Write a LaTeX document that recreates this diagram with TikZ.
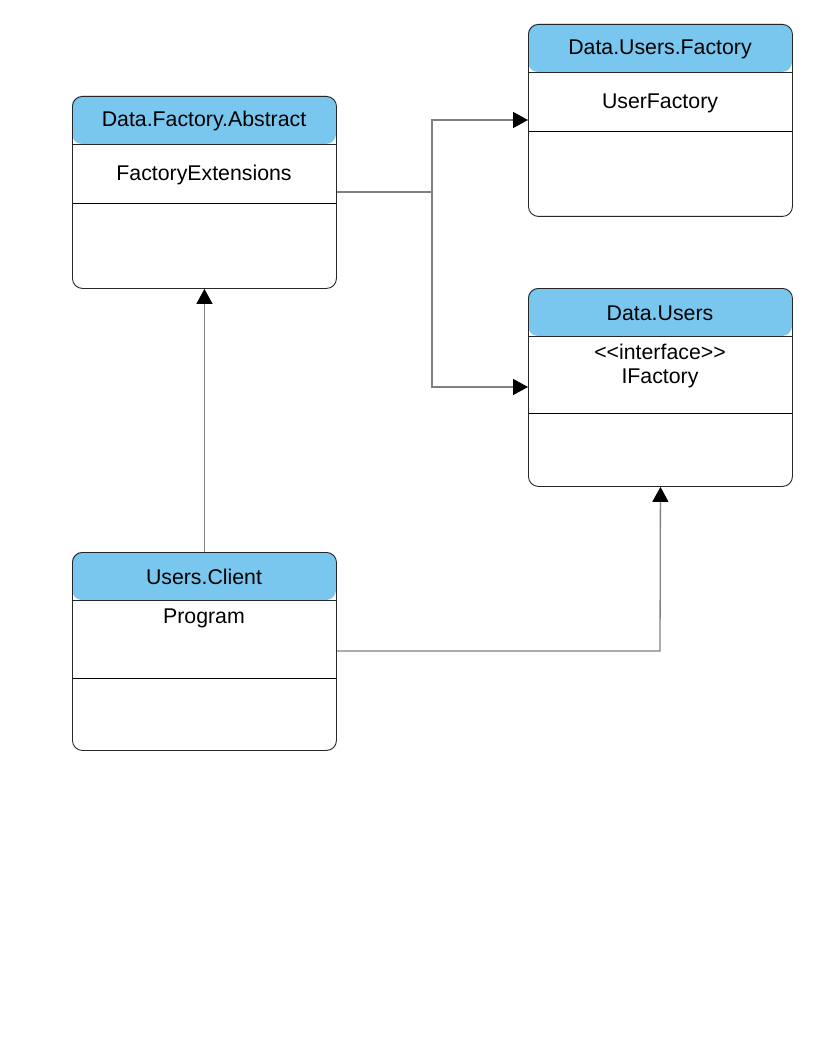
\documentclass[tikz,border=0pt]{standalone}
\usepackage{fontspec}
\setmainfont{Liberation Sans}
\usetikzlibrary{arrows.meta}
\definecolor{hdr}{HTML}{79C7EE}
\definecolor{edge}{HTML}{808080}
\tikzset{
  boxframe/.style={draw=black!85, line width=0.9pt, rounded corners=10pt},
  txt/.style={font=\fontsize{21.3}{24}\selectfont, inner sep=0pt, align=center},
  conn/.style={draw=edge, line width=1.3pt, -{Triangle[length=15pt,width=16pt,fill=black,color=black]}},
  plain/.style={draw=edge, line width=1.3pt}
}
\newcommand{\umlbox}[7]{% name, x0, y0, x1, y1, header bottom, divider
  \fill[hdr, rounded corners=10pt] (#2,#3) -- (#4,#3) -- (#4,#6) -- (#2,#6) -- cycle;
  \fill[white] (#2,#6) rectangle (#4,#5);
  \fill[white, rounded corners=10pt] (#2,#6+20) -- (#4,#6+20) -- (#4,#5) -- (#2,#5) -- cycle;
  \draw[black!85, line width=0.9pt] (#2,#6) -- (#4,#6);
  \draw[black, line width=0.9pt] (#2,#7) -- (#4,#7);
  \node[boxframe, minimum width=#4-#2, minimum height=#5-#3, anchor=north west, inner sep=0pt] (#1) at (#2,#3) {};
}
\begin{document}
\begin{tikzpicture}[x=1pt,y=-1pt]
\useasboundingbox (0,0) rectangle (816,1056);
\fill[white] (0,0) rectangle (816,1056);
% boxes
\umlbox{abs}{72}{96}{336}{288}{144}{203}
\umlbox{uf}{528}{24}{792}{216}{72}{131}
\umlbox{du}{528}{288}{792}{486}{336}{413}
\umlbox{cl}{72}{552}{336}{750}{600}{678}
% texts
\node[txt] (absT) at (204,121) {Data.Factory.Abstract};
\node[txt] (absN) at (204,175) {FactoryExtensions};
\node[txt] (ufT) at (660,49) {Data.Users.Factory};
\node[txt] (ufN) at (660,103) {UserFactory};
\node[txt] (duT) at (660,313) {Data.Users};
\node[txt] (duN) at (660,366) {<\kern0pt<interface>\kern0pt>\\IFactory};
\node[txt] (clT) at (204,577) {Users.Client};
\node[txt] (clN) at (204,618) {Program};
% connectors
\coordinate (j) at (432,192);
\draw[plain] (abs.east |- j) -- (j);
\draw[conn] (j) -- (432,120) -- (uf.west |- 0,120);
\draw[conn] (j) -- (432,387) -- (du.west |- 0,387);
\draw[conn] (cl.north) -- (abs.south);
\draw[conn] (cl.east |- 0,651) -- (660,651) -- (du.south);
\end{tikzpicture}
\end{document}
